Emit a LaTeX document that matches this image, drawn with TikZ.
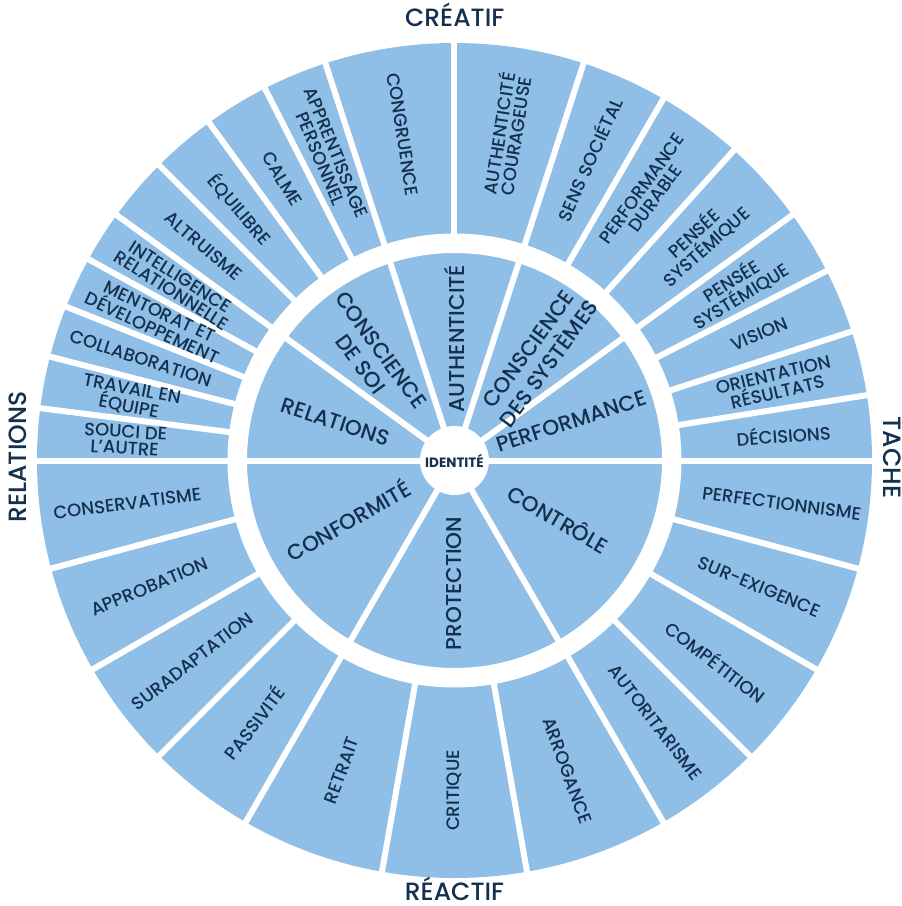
\documentclass[tikz,border=0pt]{standalone}
\usepackage{fontspec}
\setmainfont{Poppins}
\IfFontExistsTF{Poppins Medium}{\newfontfamily\labelfont{Poppins Medium}}{%
  \IfFontExistsTF{Poppins-Medium.ttf}{\newfontfamily\labelfont{Poppins-Medium.ttf}}{%
    \newfontfamily\labelfont{Poppins}[FakeBold=1.2]}}
\definecolor{wheelblue}{HTML}{8FBEE6}
\definecolor{navy}{HTML}{14304F}
\tikzset{
  gapline/.style={white, line width=6pt},
  outerlab/.style={font=\labelfont\fontsize{18}{16.5}\selectfont, text=navy, align=center, inner sep=0pt},
  midlab/.style={font=\labelfont\fontsize{21.5}{25}\selectfont, text=navy, align=center, inner sep=0pt},
  sidelab/.style={font=\labelfont\fontsize{25}{28}\selectfont, text=navy, inner sep=0pt},
  idlab/.style={font=\bfseries\fontsize{13.5}{15}\selectfont, text=navy, inner sep=0pt},
}
\begin{document}
\begin{tikzpicture}[x=1pt,y=1pt]
\useasboundingbox (-454.5,-445.5) rectangle (447.5,460.5);
\fill[wheelblue] (0,0) circle[radius=417.5];
\draw[white, line width=19.5pt] (0,0) circle[radius=217.25];
\foreach \a in {0,36,72,108,144,180,240,300}
  \draw[gapline] (0,0) -- (\a:421);
\foreach \a in {9,18,27,48,60,90,117,126,135,151.2,158.4,165.6,172.8,195,210,225,260,280,315,330,345}
  \draw[gapline] (\a:215) -- (\a:421);
\fill[white] (0,0) circle[radius=34.5];
\node[idlab] (id) at (0,0) {IDENTITÉ};
% outer ring labels
\foreach \a/\t [count=\i] in {
  4.5/DÉCISIONS, 13.5/{ORIENTATION\\RÉSULTATS}, 22.5/VISION,
  31.5/{PENSÉE\\SYSTÉMIQUE}, 42/{PENSÉE\\SYSTÉMIQUE}, 54/{PERFORMANCE\\DURABLE},
  66/SENS SOCIÉTAL, 81/{AUTHENTICITÉ\\COURAGEUSE}, 99/CONGRUENCE,
  112.5/{APPRENTISSAGE\\PERSONNEL}, 121.5/CALME, 130.5/ÉQUILIBRE, 139.5/ALTRUISME,
  147.6/{INTELLIGENCE\\RELATIONNELLE}, 154.8/{MENTORAT ET\\DÉVELOPPEMENT},
  162/COLLABORATION, 169.2/{TRAVAIL EN\\ÉQUIPE}, 176.4/{SOUCI DE\\L’AUTRE},
  187.5/CONSERVATISME, 202.5/APPROBATION, 217.5/SURADAPTATION, 232.5/PASSIVITÉ,
  250/RETRAIT, 270/CRITIQUE, 290/ARROGANCE, 307.5/AUTORITARISME,
  322.5/COMPÉTITION, 337.5/SUR-EXIGENCE, 352.5/PERFECTIONNISME}{
  \pgfmathsetmacro\rot{(\a>90 && \a<=270) ? \a-180 : \a}
  \node[outerlab, rotate=\rot] (o\i) at (\a:330) {\t};
}
% middle ring labels
\node[midlab, rotate=18] (m1) at (18.5:123) {PERFORMANCE};
\node[midlab, rotate=54] (m2) at (51:134) {CONSCIENCE\\DES SYSTÈMES};
\node[midlab, rotate=90] (m3) at (90:122) {AUTHENTICITÉ};
\node[midlab, rotate=-54] (m4) at (129:133) {CONSCIENCE\\DE SOI};
\node[midlab, rotate=-18] (m5) at (162:125) {RELATIONS};
\node[midlab, rotate=30] (m6) at (209:122) {CONFORMITÉ};
\node[midlab, rotate=90] (m7) at (270:123) {PROTECTION};
\node[midlab, rotate=-30] (m8) at (331:119) {CONTRÔLE};
% side labels
\node[sidelab, anchor=base] (top) at (0.2,433.5) {CRÉATIF};
\node[sidelab, anchor=base] (bottom) at (0,-439.5) {RÉACTIF};
\node[sidelab, anchor=base, rotate=90] (left) at (-427.8,3.5) {RELATIONS};
\node[sidelab, anchor=base, rotate=-90] (right) at (429.5,3) {TACHE};
\end{tikzpicture}
\end{document}
